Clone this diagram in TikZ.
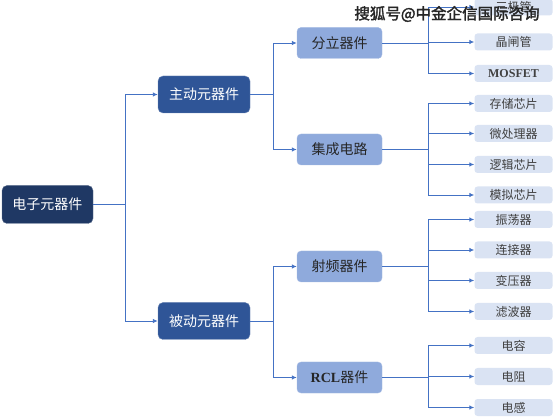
\documentclass[tikz,border=0pt]{standalone}
\usepackage{fontspec}
\setmainfont{Liberation Serif}
\newfontfamily\cjk{Noto Sans CJK SC}
\newfontfamily\cjkb[FakeBold=2]{Noto Sans CJK SC}
\usetikzlibrary{arrows.meta}
\definecolor{linec}{RGB}{68,114,196}
\definecolor{rootc}{RGB}{31,56,100}
\definecolor{lonec}{RGB}{47,85,151}
\definecolor{ltwoc}{RGB}{143,170,220}
\definecolor{leafc}{RGB}{218,227,243}
\definecolor{leaftxt}{RGB}{64,64,64}
\tikzset{
  rootbox/.style={fill=rootc,draw=rootc!70!white,rounded corners=5pt,minimum width=91pt,minimum height=38pt,text=white,font=\cjk\fontsize{14}{16}\selectfont,inner sep=0pt},
  onebox/.style={fill=lonec,draw=lonec!70!white,rounded corners=5pt,minimum width=92pt,minimum height=37pt,text=white,font=\cjk\fontsize{14}{16}\selectfont,inner sep=0pt},
  twobox/.style={fill=ltwoc,draw=ltwoc!80!white,rounded corners=4pt,minimum width=85pt,minimum height=31pt,text=black!85,font=\cjk\fontsize{14}{16}\selectfont,inner sep=0pt},
  leafbox/.style={fill=leafc,rounded corners=3pt,minimum width=78pt,minimum height=17pt,text=leaftxt,font=\cjk\fontsize{12}{14}\selectfont,inner sep=0pt},
  conn/.style={draw=linec,line width=0.9pt,-{Latex[length=5pt,width=4.5pt]}},
  plain/.style={draw=linec,line width=0.9pt}
}
\begin{document}
\begin{tikzpicture}[x=1pt,y=-1pt]
\useasboundingbox (0,0) rectangle (554,419);
% root and level 1
\node[rootbox] (root) at (47.5,204.5) {电子元器件};
\node[onebox] (act) at (204,94.5) {主动元器件};
\node[onebox] (pas) at (204,321) {被动元器件};
% level 2
\node[twobox] (fl) at (339.5,43) {分立器件};
\node[twobox] (jc) at (339.5,149.5) {集成电路};
\node[twobox] (sp) at (339.5,266.5) {射频器件};
\node[twobox] (rcl) at (339.5,377.5) {{\rmfamily\bfseries RCL}器件};
% leaves
\node[leafbox] (a1) at (513.5,7) {三极管};
\node[leafbox] (a2) at (513.5,42) {晶闸管};
\node[leafbox] (a3) at (513.5,73.5) {\rmfamily\bfseries MOSFET};
\node[leafbox] (b1) at (513.5,103.5) {存储芯片};
\node[leafbox] (b2) at (513.5,133.5) {微处理器};
\node[leafbox] (b3) at (513.5,164.5) {逻辑芯片};
\node[leafbox] (b4) at (513.5,195) {模拟芯片};
\node[leafbox] (c1) at (513.5,219.5) {振荡器};
\node[leafbox] (c2) at (513.5,250) {连接器};
\node[leafbox] (c3) at (513.5,280.5) {变压器};
\node[leafbox] (c4) at (513.5,311.5) {滤波器};
\node[leafbox] (d1) at (513.5,345.5) {电容};
\node[leafbox] (d2) at (513.5,376.5) {电阻};
\node[leafbox] (d3) at (513.5,407.5) {电感};
% connectors root -> level1
\coordinate (rj) at (125,204.5);
\draw[plain] (root.east) -- (rj);
\draw[conn] (rj) |- (act.west);
\draw[conn] (rj) |- (pas.west);
% level1 -> level2
\coordinate (aj) at (273,94.5);
\draw[plain] (act.east) -- (aj);
\draw[conn] (aj) |- (fl.west);
\draw[conn] (aj) |- (jc.west);
\coordinate (pj) at (273,321);
\draw[plain] (pas.east) -- (pj);
\draw[conn] (pj) |- (sp.west);
\draw[conn] (pj) |- (rcl.west);
% level2 -> leaves
\coordinate (fj) at (428,43);
\draw[plain] (fl.east) -- (fj);
\foreach \n in {a1,a2,a3} \draw[conn] (fj) |- (\n.west);
\coordinate (jj) at (428,149.5);
\draw[plain] (jc.east) -- (jj);
\foreach \n in {b1,b2,b3,b4} \draw[conn] (jj) |- (\n.west);
\coordinate (sj) at (428,266.5);
\draw[plain] (sp.east) -- (sj);
\foreach \n in {c1,c2,c3,c4} \draw[conn] (sj) |- (\n.west);
\coordinate (cj) at (428,377.5);
\draw[plain] (rcl.east) -- (cj);
\foreach \n in {d1,d2,d3} \draw[conn] (cj) |- (\n.west);
% watermark
\node[font=\cjkb\fontsize{15.5}{17}\selectfont,text=black!85,inner sep=0pt] (wm) at (447,14) {搜狐号@中金企信国际咨询};
\end{tikzpicture}
\end{document}
